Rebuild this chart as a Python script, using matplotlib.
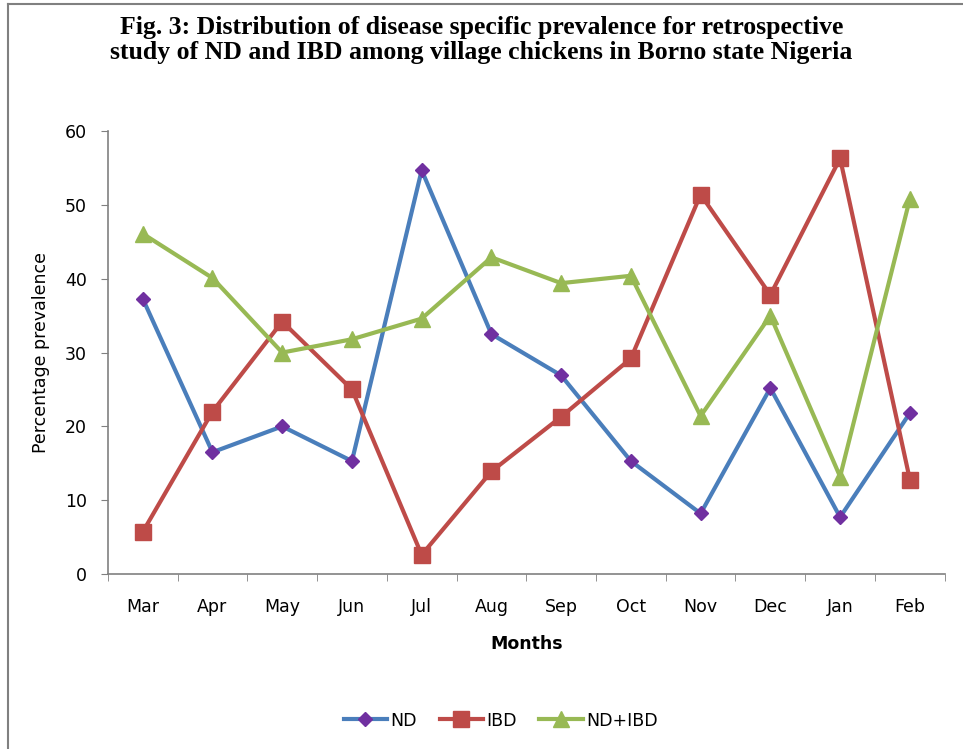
import matplotlib.pyplot as plt
from matplotlib.lines import Line2D

months = ['Mar', 'Apr', 'May', 'Jun', 'Jul', 'Aug', 'Sep', 'Oct', 'Nov', 'Dec', 'Jan', 'Feb']
nd = [37.3, 16.5, 20.0, 15.3, 54.7, 32.5, 26.9, 15.3, 8.2, 25.2, 7.7, 21.8]
ibd = [5.7, 22.0, 34.2, 25.0, 2.6, 13.9, 21.3, 29.2, 51.4, 37.8, 56.3, 12.8]
nd_ibd = [46.1, 40.1, 30.0, 31.8, 34.6, 42.9, 39.4, 40.4, 21.4, 35.0, 13.2, 50.8]

fig = plt.figure(figsize=(9.63, 7.49), dpi=100)
ax = fig.add_axes([0.112, 0.2336, 0.869, 0.5914])

x = list(range(len(months)))
ax.plot(x, nd, color='#4A7EBB', lw=3, marker='D', ms=7, mfc='#7030A0', mec='#7030A0', label='ND')
ax.plot(x, ibd, color='#BE4B48', lw=3, marker='s', ms=11, mfc='#BE4B48', mec='#BE4B48', label='IBD')
ax.plot(x, nd_ibd, color='#98B954', lw=3, marker='^', ms=11, mfc='#98B954', mec='#98B954', label='ND+IBD')

ax.set_xlim(-0.5, 11.5)
ax.set_ylim(0, 60)
ax.set_yticks(range(0, 61, 10))
ax.set_xticks(x)
ax.set_xticklabels(months)
ax.set_xticks([i - 0.5 for i in range(13)], minor=True)
ax.tick_params(axis='x', which='major', length=0, pad=17, labelsize=12.5)
ax.tick_params(axis='x', which='minor', length=5, color='#808080', direction='out')
ax.tick_params(axis='y', length=5, color='#808080', pad=10, labelsize=12.5)
for s in ['top', 'right']:
    ax.spines[s].set_visible(False)
for s in ['left', 'bottom']:
    ax.spines[s].set_color('#808080')
    ax.spines[s].set_linewidth(1.2)

ax.set_xlabel('Months', fontsize=12.5, fontweight='bold', labelpad=14)
ax.set_ylabel('Percentage prevalence', fontsize=12.5, labelpad=11)

fig.text(0.5, 0.978, 'Fig. 3: Distribution of disease specific prevalence for retrospective\n'
         'study of ND and IBD among village chickens in Borno state Nigeria',
         ha='center', va='top', family='Liberation Serif', fontweight='bold', fontsize=18.5,
         linespacing=1.08)

fig.legend(loc='center', bbox_to_anchor=(0.52, 0.038), ncol=3, frameon=False, fontsize=12.5,
           handlelength=2.5, columnspacing=1.3, handletextpad=0.2)

# outer chart border (left and top edges visible)
fig.add_artist(Line2D([0.0078, 0.0078], [0, 0.994], color='#808080', lw=1.5, transform=fig.transFigure))
fig.add_artist(Line2D([0.0078, 1], [0.994, 0.994], color='#808080', lw=1.5, transform=fig.transFigure))

fig.savefig('out.png', dpi=100)
